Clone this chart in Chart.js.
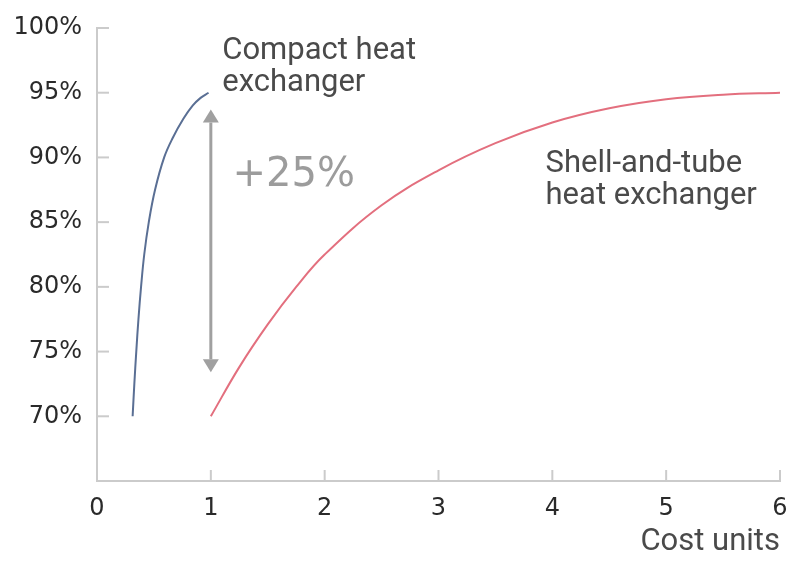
<!DOCTYPE html>
<html>
<head>
<meta charset="utf-8">
<script src="https://cdn.jsdelivr.net/npm/chart.js@4.4.0/dist/chart.umd.min.js"></script>
<style>
html, body { margin: 0; padding: 0; background: #fff; }
#wrap { width: 789px; height: 561px; }
</style>
</head>
<body>
<div id="wrap"><canvas id="myChart"></canvas></div>
<script>
// values
var compactCost = [0.313, 0.328, 0.345, 0.364, 0.387, 0.415, 0.455, 0.51, 0.59, 0.665, 0.76, 0.84, 0.91, 0.98];
var compactEff  = [70, 72.5, 75, 77.5, 80, 82.5, 85, 87.5, 90, 91.5, 93, 94, 94.6, 95];

var shellCost = [1, 1.25, 1.5, 1.75, 2, 2.5, 3, 3.5, 4, 4.5, 5, 5.5, 6];
var shellEff  = [70, 73.8, 77.1, 80.0, 82.5, 86.3, 89.0, 91.1, 92.7, 93.8, 94.5, 94.85, 95.0];

var xTicks = [0, 1, 2, 3, 4, 5, 6];
var yTicks = [70, 75, 80, 85, 90, 95, 100];

var gainCost = 1;
var gainRange = [73.4, 93.7];
var gainLabel = "+25%";
var compactLabel = ["Compact heat", "exchanger"];
var shellLabel = ["Shell-and-tube", "heat exchanger"];
var xTitle = "Cost units";

function toPoints(xs, ys) {
    var pts = [];
    for (var i = 0; i < xs.length; i++) {
        pts.push({x: xs[i], y: ys[i]});
    }
    return pts;
}

var axisColor = '#cbcbcb';
var tickFont = {family: 'DejaVu Sans', size: 24, weight: 'normal'};

// small tick marks pointing into the plot
var inwardTicks = {
    id: 'inwardTicks',
    beforeDatasetsDraw: function (chart) {
        var ctx = chart.ctx;
        var xs = chart.scales.x, ys = chart.scales.y;
        ctx.save();
        ctx.strokeStyle = axisColor;
        ctx.lineWidth = 2;
        xTicks.forEach(function (v) {
            if (v === 0) return;
            var px = xs.getPixelForValue(v);
            ctx.beginPath();
            ctx.moveTo(px, ys.bottom);
            ctx.lineTo(px, ys.bottom - 11);
            ctx.stroke();
        });
        yTicks.forEach(function (v) {
            var py = ys.getPixelForValue(v);
            ctx.beginPath();
            ctx.moveTo(xs.left, py);
            ctx.lineTo(xs.left + 12, py);
            ctx.stroke();
        });
        ctx.restore();
    }
};

// arrow and text notes
var notes = {
    id: 'notes',
    afterDatasetsDraw: function (chart) {
        var ctx = chart.ctx;
        var xs = chart.scales.x, ys = chart.scales.y;
        ctx.save();

        // double arrow
        var ax = xs.getPixelForValue(gainCost);
        var top = ys.getPixelForValue(gainRange[1]);
        var bot = ys.getPixelForValue(gainRange[0]);
        var head = 13, half = 8;
        ctx.strokeStyle = '#a0a0a0';
        ctx.fillStyle = '#a0a0a0';
        ctx.lineWidth = 3;
        ctx.beginPath();
        ctx.moveTo(ax, top + head);
        ctx.lineTo(ax, bot - head);
        ctx.stroke();
        ctx.beginPath();
        ctx.moveTo(ax, top);
        ctx.lineTo(ax - half, top + head);
        ctx.lineTo(ax + half, top + head);
        ctx.closePath();
        ctx.fill();
        ctx.beginPath();
        ctx.moveTo(ax, bot);
        ctx.lineTo(ax - half, bot - head);
        ctx.lineTo(ax + half, bot - head);
        ctx.closePath();
        ctx.fill();

        // +25%
        ctx.textBaseline = 'middle';
        ctx.textAlign = 'left';
        ctx.fillStyle = '#9c9c9c';
        ctx.font = '40px "DejaVu Sans"';
        ctx.fillText(gainLabel, xs.getPixelForValue(1.19), ys.getPixelForValue(88.6));

        // series notes
        ctx.fillStyle = '#4a4a4a';
        ctx.font = '400 31px Roboto';
        var cx = xs.getPixelForValue(1.10), cy = ys.getPixelForValue(98.2);
        compactLabel.forEach(function (t, i) { ctx.fillText(t, cx, cy + i * 32); });
        var sx = xs.getPixelForValue(3.94), sy = ys.getPixelForValue(89.5);
        shellLabel.forEach(function (t, i) { ctx.fillText(t, sx, sy + i * 32); });

        ctx.restore();
    }
};

var ctx = document.getElementById('myChart').getContext('2d');
var chart = new Chart(ctx, {
    type: 'line',
    data: {
        datasets: [{
                label: 'Compact heat exchanger',
                data: toPoints(compactCost, compactEff),
                borderColor: '#5a6f94',
                borderWidth: 2,
                pointRadius: 0,
                tension: 0.4
            }, {
                label: 'Shell-and-tube heat exchanger',
                data: toPoints(shellCost, shellEff),
                borderColor: '#e36f7e',
                borderWidth: 2,
                pointRadius: 0,
                tension: 0.4
            }]
    },
    options: {
        responsive: true,
        maintainAspectRatio: false,
        animation: false,
        layout: {padding: {top: 28, right: 9, left: 0, bottom: 0}},
        plugins: {
            legend: {display: false},
            tooltip: {enabled: false}
        },
        scales: {
            x: {
                type: 'linear',
                min: 0,
                max: 6,
                afterFit: function (s) { s.height = 80; },
                afterBuildTicks: function (s) {
                    s.ticks = xTicks.map(function (v) { return {value: v}; });
                },
                grid: {drawOnChartArea: false, drawTicks: true, tickLength: 13, tickColor: 'rgba(0,0,0,0)'},
                border: {color: axisColor, width: 2},
                ticks: {
                    padding: 0,
                    color: '#2a2a2a',
                    font: tickFont
                },
                title: {
                    display: true,
                    text: xTitle,
                    align: 'end',
                    color: '#4a4a4a',
                    font: {family: 'Roboto', size: 31, weight: '400'},
                    padding: {top: 0, bottom: 0}
                }
            },
            y: {
                min: 65,
                max: 100,
                afterFit: function (s) { s.width = 97; },
                afterBuildTicks: function (s) {
                    s.ticks = yTicks.map(function (v) { return {value: v}; });
                },
                grid: {drawOnChartArea: false, drawTicks: true, tickLength: 15, tickColor: 'rgba(0,0,0,0)'},
                border: {color: axisColor, width: 2},
                ticks: {
                    padding: 0,
                    color: '#2a2a2a',
                    font: tickFont,
                    callback: function (v) { return v + '%'; }
                }
            }
        }
    },
    plugins: [inwardTicks, notes]
});
</script>
</body>
</html>
